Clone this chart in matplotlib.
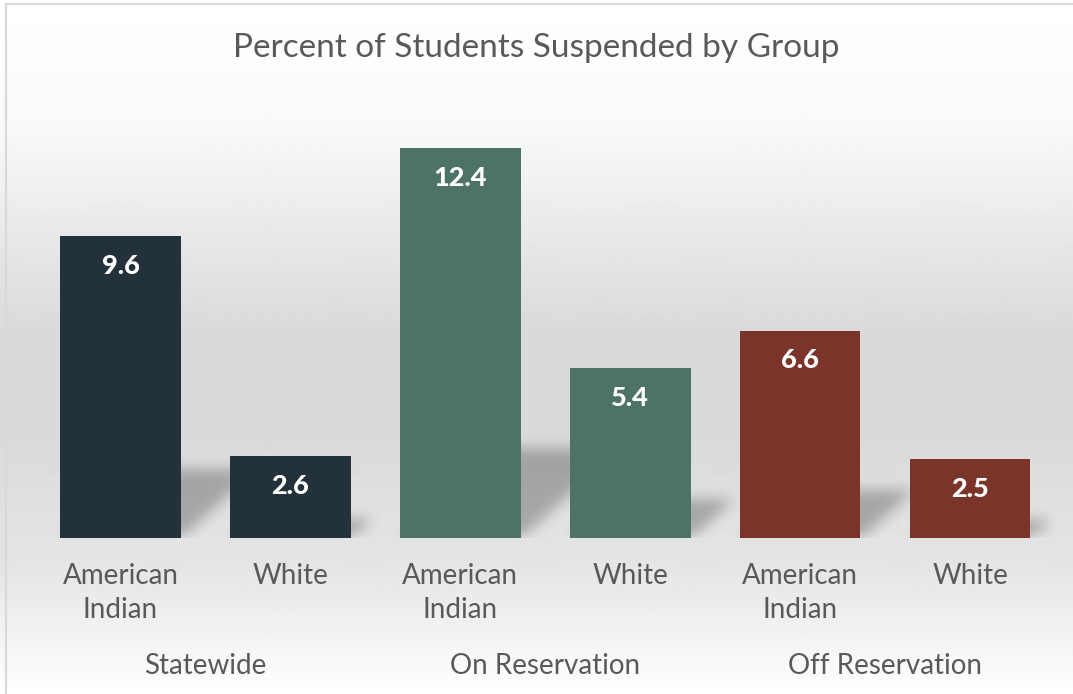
import numpy as np
import matplotlib.pyplot as plt
from matplotlib.patches import Rectangle

plt.rcParams['font.family'] = ['Lato', 'DejaVu Sans']

groups = ['Statewide', 'On Reservation', 'Off Reservation']
categories = ['American\nIndian', 'White'] * 3
values = [9.6, 2.6, 12.4, 5.4, 6.6, 2.5]
colors = ['#23323a', '#23323a', '#4d7266', '#4d7266', '#7b342a', '#7b342a']

W, H, DPI = 1073, 694, 100
TEXT = '#595959'
fig = plt.figure(figsize=(W / DPI, H / DPI), dpi=DPI)

# soft vertical gradient behind everything
bg = fig.add_axes([0, 0, 1, 1], zorder=0)
stops_y = [0, 120, 330, 440, 570, 694]
stops_v = [1.0, 0.98, 0.855, 0.855, 0.9, 1.0]
rows = np.interp(np.arange(H), stops_y, stops_v)
bg.imshow(np.repeat(rows[:, None], 2, axis=1), cmap='gray', vmin=0, vmax=1,
          aspect='auto', extent=[0, 1, 0, 1], interpolation='bilinear')
bg.add_patch(Rectangle((6 / W, -0.05), 1.1, 1.05 - 4 / H, fill=False,
                       edgecolor='#d9d9d9', lw=1.6, transform=bg.transAxes))
bg.set_xlim(0, 1)
bg.set_ylim(0, 1)
bg.axis('off')

# plot area
ax_l, ax_b, ax_w, ax_h = 35.5, H - 538, 1019.5, 440
ax = fig.add_axes([ax_l / W, ax_b / H, ax_w / W, ax_h / H], zorder=1)
ax.set_facecolor('none')
x = np.arange(len(values))
bar_w = 0.71
ax.bar(x, values, width=bar_w, color=colors, zorder=3)
ax.set_xlim(-0.5, 5.5)
ax.set_ylim(0, 14)

# perspective shadows cast up and to the right of each bar
px_x = ax_w / 6
px_y = ax_h / 14
gx = np.arange(int(ax_w)) + 0.5
gy = np.arange(int(ax_h)) + 0.5
X, Y = np.meshgrid(gx, gy)
mask = np.zeros_like(X)
for xi, v in zip(x, values):
    x0 = (xi - bar_w / 2 + 0.5) * px_x
    x1 = (xi + bar_w / 2 + 0.5) * px_x
    top = 0.23 * v * px_y
    mask[(Y <= top) & (X >= x0 + 1.1 * Y) & (X <= x1 + 1.1 * Y)] = 1.0


def box_blur(a, r, axis):
    pad = [(0, 0), (0, 0)]
    pad[axis] = (r + 1, r)
    c = np.cumsum(np.pad(a, pad), axis=axis)
    n = a.shape[axis]
    hi = np.take(c, np.arange(2 * r + 1, 2 * r + 1 + n), axis=axis)
    lo = np.take(c, np.arange(0, n), axis=axis)
    return (hi - lo) / (2 * r + 1)


for _ in range(3):
    mask = box_blur(mask, 6, 0)
    mask = box_blur(mask, 6, 1)

shadow = np.zeros(mask.shape + (4,))
shadow[..., 3] = 0.26 * mask
ax.imshow(shadow, origin='lower', extent=(-0.5, 5.5, 0, 14), aspect='auto',
          zorder=2, interpolation='bilinear')
ax.set_xlim(-0.5, 5.5)
ax.set_ylim(0, 14)

for xi, v in zip(x, values):
    ax.annotate(f'{v}', (xi, v), xytext=(0, -21.5), textcoords='offset points',
                ha='center', va='center', color='white', fontsize=19.5,
                fontweight='black', zorder=4)

ax.set_xticks(x, categories)
ax.tick_params(axis='x', length=0, pad=18, labelsize=20, labelcolor=TEXT)
for lbl in ax.get_xticklabels():
    lbl.set_linespacing(1.4)
ax.set_yticks([])
for s in ax.spines.values():
    s.set_visible(False)

for i, g in enumerate(groups):
    ax.annotate(g, (2 * i + 0.5, 0), xycoords=('data', 'axes fraction'),
                xytext=(0, -92.5), textcoords='offset points', ha='center',
                va='center', fontsize=20, color=TEXT)

fig.text(0.5, 1 - 48 / H, 'Percent of Students Suspended by Group',
         ha='center', va='center', fontsize=24, color=TEXT)

fig.savefig('out.png', dpi=DPI)
